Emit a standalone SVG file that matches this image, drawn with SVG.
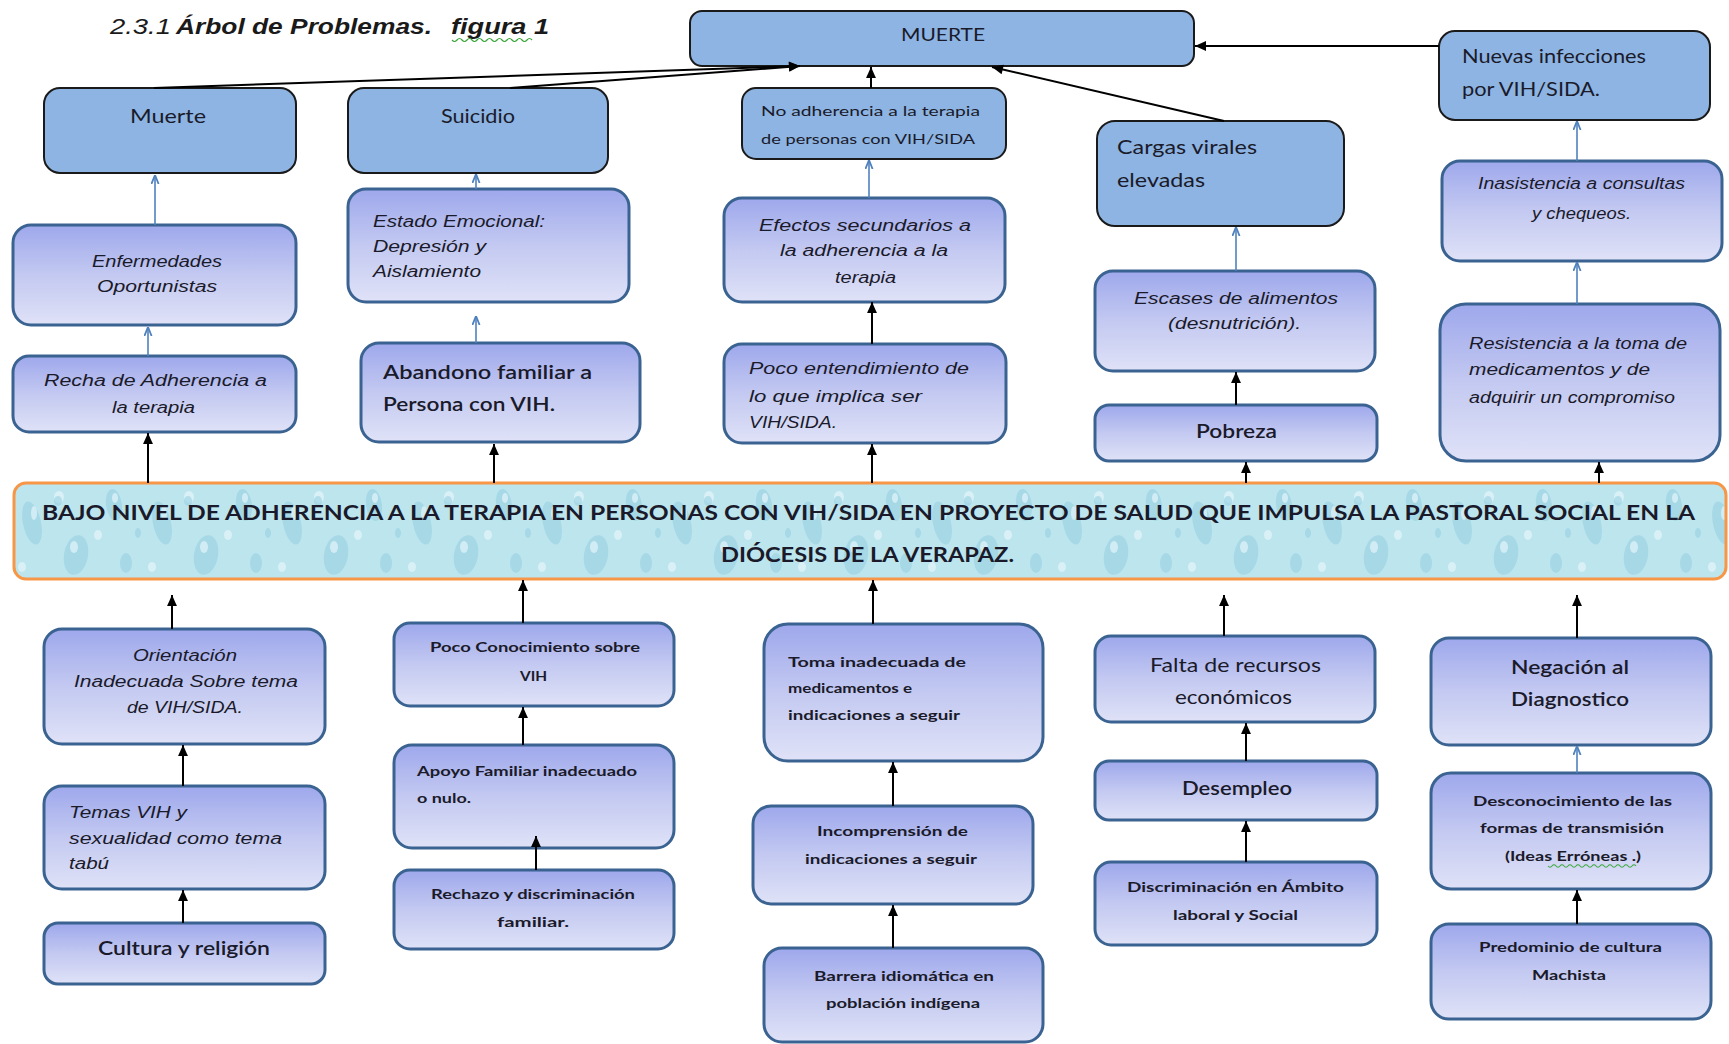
<svg xmlns="http://www.w3.org/2000/svg" width="1729" height="1044" viewBox="0 0 1729 1044">
<defs>
<style>
.eff{fill:#8db4e2;stroke:#1a1a1a;stroke-width:2}
.cau{fill:url(#gc);stroke:#3a6391;stroke-width:3}
.cal{font-family:Lato,"Open Sans","Liberation Sans",sans-serif;fill:#1a1a2a}
.ita{font-family:"Liberation Sans",Arial,sans-serif;font-style:italic;fill:#1a1a2a}
.bs{font-family:Lato,"Open Sans","Liberation Sans",sans-serif;font-weight:bold;fill:#1a1a2a}
.ck{stroke:#000;stroke-width:2;fill:none;marker-end:url(#ab)}
.cb{stroke:#4f81bd;stroke-width:1.6;fill:none;marker-end:url(#abl)}
.dk{fill:#93cee0;opacity:0.55}
.lt{fill:#e4f6fa;opacity:0.7}
</style>
<linearGradient id="gc" x1="0" y1="0" x2="0" y2="1">
<stop offset="0" stop-color="#9ea8ec"/>
<stop offset="0.5" stop-color="#c3c9f1"/>
<stop offset="1" stop-color="#dfe2f7"/>
</linearGradient>
<pattern id="drops" x="14" y="483" width="130" height="96" patternUnits="userSpaceOnUse">
<rect width="130" height="96" fill="#bde5ee"/>
<ellipse class="dk" cx="18" cy="40" rx="9" ry="22" transform="rotate(-12 18 40)"/>
<ellipse class="lt" cx="20" cy="30" rx="3" ry="7"/>
<ellipse class="dk" cx="62" cy="72" rx="12" ry="20" transform="rotate(10 62 72)"/>
<ellipse class="lt" cx="60" cy="64" rx="4" ry="6"/>
<ellipse class="dk" cx="100" cy="22" rx="8" ry="16" transform="rotate(-8 100 22)"/>
<ellipse class="lt" cx="101" cy="15" rx="3" ry="5"/>
<ellipse class="dk" cx="112" cy="80" rx="6" ry="10"/>
<ellipse class="lt" cx="45" cy="14" rx="5" ry="6"/>
<ellipse class="dk" cx="44" cy="18" rx="4" ry="5"/>
<ellipse class="lt" cx="84" cy="52" rx="4" ry="5"/>
<ellipse class="lt" cx="8" cy="84" rx="4" ry="5"/>
<ellipse class="dk" cx="124" cy="50" rx="3" ry="5"/>
</pattern>
<marker id="ab" viewBox="0 0 10 10" refX="10" refY="5" markerWidth="12" markerHeight="11" markerUnits="userSpaceOnUse" orient="auto">
<path d="M0,0.5 L10,5 L0,9.5 z" fill="#000"/>
</marker>
<marker id="abl" viewBox="0 0 10 10" refX="10" refY="5" markerWidth="9" markerHeight="9" markerUnits="userSpaceOnUse" orient="auto">
<path d="M0,1 L10,5 L0,9" fill="none" stroke="#4f81bd" stroke-width="2"/>
</marker>
</defs>
<rect width="1729" height="1044" fill="#ffffff"/>

<g id="title">
<text y="34" font-size="22" font-family="'Liberation Sans',Arial,sans-serif" font-style="italic" fill="#1a1a1a"><tspan x="110" textLength="61" lengthAdjust="spacingAndGlyphs">2.3.1</tspan><tspan x="176" font-weight="bold" textLength="256" lengthAdjust="spacingAndGlyphs">Árbol de Problemas.</tspan><tspan x="451" font-weight="bold" textLength="98" lengthAdjust="spacingAndGlyphs">figura 1</tspan></text>
<path d="M452,40 q2.5,3 5,0 t5,0 t5,0 t5,0 t5,0 t5,0 t5,0 t5,0 t5,0 t5,0 t5,0 t5,0 t5,0 t5,0 t5,0 t5,0" fill="none" stroke="#3aa63a" stroke-width="1.2"/>
</g>

<g id="n-muerte-top">
<rect class="eff" x="690" y="11" width="504" height="55" rx="12"/>
<text class="cal" x="901" y="41" font-size="17" textLength="84" lengthAdjust="spacingAndGlyphs">MUERTE</text>
</g>
<g id="n-muerte">
<rect class="eff" x="44" y="88" width="252" height="85" rx="16"/>
<text class="cal" x="130" y="123" font-size="19" textLength="76" lengthAdjust="spacingAndGlyphs">Muerte</text>
</g>
<g id="n-suicidio">
<rect class="eff" x="348" y="88" width="260" height="85" rx="16"/>
<text class="cal" x="441" y="123" font-size="19" textLength="74" lengthAdjust="spacingAndGlyphs">Suicidio</text>
</g>
<g id="n-noadherencia">
<rect class="eff" x="742" y="88" width="264" height="71" rx="14"/>
<text class="cal" x="761" y="116" font-size="14" textLength="219" lengthAdjust="spacingAndGlyphs">No adherencia  a la terapia</text>
<text class="cal" x="761" y="144" font-size="14" textLength="214" lengthAdjust="spacingAndGlyphs">de personas con VIH/SIDA</text>
</g>
<g id="n-cargas">
<rect class="eff" x="1097" y="121" width="247" height="105" rx="18"/>
<text class="cal" x="1117" y="154" font-size="19" textLength="140" lengthAdjust="spacingAndGlyphs">Cargas virales</text>
<text class="cal" x="1117" y="187" font-size="19" textLength="88" lengthAdjust="spacingAndGlyphs">elevadas</text>
</g>
<g id="n-nuevas">
<rect class="eff" x="1439" y="31" width="271" height="89" rx="16"/>
<text class="cal" x="1462" y="63" font-size="19" textLength="184" lengthAdjust="spacingAndGlyphs">Nuevas infecciones</text>
<text class="cal" x="1462" y="96" font-size="19" textLength="138" lengthAdjust="spacingAndGlyphs">por VIH/SIDA.</text>
</g>

<g id="n-enfermedades">
<rect class="cau" x="13" y="225" width="283" height="100" rx="18"/>
<text class="ita" x="92" y="267" font-size="16" textLength="130" lengthAdjust="spacingAndGlyphs">Enfermedades</text>
<text class="ita" x="97" y="292" font-size="16" textLength="120" lengthAdjust="spacingAndGlyphs">Oportunistas</text>
</g>
<g id="n-estado">
<rect class="cau" x="348" y="189" width="281" height="113" rx="18"/>
<text class="ita" x="373" y="227" font-size="16" textLength="172" lengthAdjust="spacingAndGlyphs">Estado Emocional:</text>
<text class="ita" x="373" y="252" font-size="16" textLength="113" lengthAdjust="spacingAndGlyphs">Depresión  y</text>
<text class="ita" x="373" y="277" font-size="16" textLength="108" lengthAdjust="spacingAndGlyphs">Aislamiento</text>
</g>
<g id="n-efectos">
<rect class="cau" x="724" y="198" width="281" height="104" rx="18"/>
<text class="ita" x="759" y="231" font-size="16" textLength="212" lengthAdjust="spacingAndGlyphs">Efectos  secundarios  a</text>
<text class="ita" x="780" y="256" font-size="16" textLength="168" lengthAdjust="spacingAndGlyphs">la adherencia   a la</text>
<text class="ita" x="835" y="283" font-size="16" textLength="61" lengthAdjust="spacingAndGlyphs">terapia</text>
</g>
<g id="n-escases">
<rect class="cau" x="1095" y="271" width="280" height="100" rx="18"/>
<text class="ita" x="1134" y="304" font-size="16" textLength="204" lengthAdjust="spacingAndGlyphs">Escases  de alimentos</text>
<text class="ita" x="1168" y="329" font-size="16" textLength="133" lengthAdjust="spacingAndGlyphs">(desnutrición).</text>
</g>
<g id="n-inasistencia">
<rect class="cau" x="1442" y="161" width="280" height="100" rx="18"/>
<text class="ita" x="1478" y="189" font-size="16" textLength="207" lengthAdjust="spacingAndGlyphs">Inasistencia   a consultas</text>
<text class="ita" x="1532" y="219" font-size="16" textLength="99" lengthAdjust="spacingAndGlyphs">y chequeos.</text>
</g>
<g id="n-recha">
<rect class="cau" x="13" y="356" width="283" height="76" rx="16"/>
<text class="ita" x="44" y="386" font-size="16" textLength="223" lengthAdjust="spacingAndGlyphs">Recha de  Adherencia  a</text>
<text class="ita" x="112" y="413" font-size="16" textLength="83" lengthAdjust="spacingAndGlyphs">la terapia</text>
</g>
<g id="n-abandono">
<rect class="cau" x="361" y="343" width="279" height="99" rx="18"/>
<text class="cal" x="383" y="379" font-size="19" font-weight="600" textLength="209" lengthAdjust="spacingAndGlyphs">Abandono  familiar  a</text>
<text class="cal" x="383" y="411" font-size="19" font-weight="600" textLength="172" lengthAdjust="spacingAndGlyphs">Persona con VIH.</text>
</g>
<g id="n-poco-entendimiento">
<rect class="cau" x="724" y="344" width="282" height="99" rx="18"/>
<text class="ita" x="749" y="374" font-size="16" textLength="220" lengthAdjust="spacingAndGlyphs">Poco entendimiento  de</text>
<text class="ita" x="749" y="402" font-size="16" textLength="173" lengthAdjust="spacingAndGlyphs">lo que implica   ser</text>
<text class="ita" x="749" y="428" font-size="16" textLength="88" lengthAdjust="spacingAndGlyphs">VIH/SIDA.</text>
</g>
<g id="n-pobreza">
<rect class="cau" x="1095" y="405" width="282" height="56" rx="14"/>
<text class="cal" x="1196" y="438" font-size="19" font-weight="600" textLength="81" lengthAdjust="spacingAndGlyphs">Pobreza</text>
</g>
<g id="n-resistencia">
<rect class="cau" x="1440" y="304" width="280" height="157" rx="26"/>
<text class="ita" x="1469" y="349" font-size="16" textLength="218" lengthAdjust="spacingAndGlyphs">Resistencia  a la toma  de</text>
<text class="ita" x="1469" y="375" font-size="16" textLength="181" lengthAdjust="spacingAndGlyphs">medicamentos   y de</text>
<text class="ita" x="1469" y="403" font-size="16" textLength="206" lengthAdjust="spacingAndGlyphs">adquirir un  compromiso</text>
</g>

<g id="n-problema">
<rect x="14" y="483" width="1712" height="96" rx="12" fill="url(#drops)" stroke="#f79646" stroke-width="3"/>
<text class="bs" x="42" y="520" font-size="21" textLength="1653" lengthAdjust="spacingAndGlyphs">BAJO NIVEL  DE ADHERENCIA  A LA TERAPIA  EN PERSONAS  CON VIH/SIDA  EN PROYECTO  DE  SALUD QUE IMPULSA  LA PASTORAL SOCIAL EN LA</text>
<text class="bs" x="721" y="562" font-size="21" textLength="293" lengthAdjust="spacingAndGlyphs">DIÓCESIS DE LA VERAPAZ.</text>
</g>

<g id="n-orientacion">
<rect class="cau" x="44" y="629" width="281" height="115" rx="18"/>
<text class="ita" x="133" y="661" font-size="16" textLength="104" lengthAdjust="spacingAndGlyphs">Orientación</text>
<text class="ita" x="74" y="687" font-size="16" textLength="224" lengthAdjust="spacingAndGlyphs">Inadecuada  Sobre  tema</text>
<text class="ita" x="127" y="713" font-size="16" textLength="116" lengthAdjust="spacingAndGlyphs">de VIH/SIDA.</text>
</g>
<g id="n-temas">
<rect class="cau" x="44" y="786" width="281" height="103" rx="18"/>
<text class="ita" x="69" y="818" font-size="16" textLength="118" lengthAdjust="spacingAndGlyphs">Temas  VIH  y</text>
<text class="ita" x="69" y="844" font-size="16" textLength="213" lengthAdjust="spacingAndGlyphs">sexualidad   como tema</text>
<text class="ita" x="69" y="869" font-size="16" textLength="40" lengthAdjust="spacingAndGlyphs">tabú</text>
</g>
<g id="n-cultura">
<rect class="cau" x="44" y="923" width="281" height="61" rx="14"/>
<text class="cal" x="98" y="955" font-size="20" font-weight="600" textLength="172" lengthAdjust="spacingAndGlyphs">Cultura y religión</text>
</g>
<g id="n-poco-conocimiento">
<rect class="cau" x="394" y="623" width="280" height="83" rx="16"/>
<text class="bs" x="430" y="652" font-size="14" textLength="210" lengthAdjust="spacingAndGlyphs">Poco Conocimiento  sobre</text>
<text class="bs" x="520" y="681" font-size="14" textLength="27" lengthAdjust="spacingAndGlyphs">VIH</text>
</g>
<g id="n-apoyo">
<rect class="cau" x="394" y="745" width="280" height="103" rx="18"/>
<text class="bs" x="417" y="776" font-size="14" textLength="220" lengthAdjust="spacingAndGlyphs">Apoyo Familiar inadecuado</text>
<text class="bs" x="417" y="803" font-size="14" textLength="54" lengthAdjust="spacingAndGlyphs">o nulo.</text>
</g>
<g id="n-rechazo">
<rect class="cau" x="394" y="870" width="280" height="79" rx="16"/>
<text class="bs" x="431" y="899" font-size="14" textLength="204" lengthAdjust="spacingAndGlyphs">Rechazo y discriminación</text>
<text class="bs" x="497" y="927" font-size="14" textLength="72" lengthAdjust="spacingAndGlyphs">familiar.</text>
</g>
<g id="n-toma">
<rect class="cau" x="764" y="624" width="279" height="137" rx="24"/>
<text class="bs" x="788" y="667" font-size="14" textLength="178" lengthAdjust="spacingAndGlyphs">Toma inadecuada   de</text>
<text class="bs" x="788" y="693" font-size="14" textLength="124" lengthAdjust="spacingAndGlyphs">medicamentos e</text>
<text class="bs" x="788" y="720" font-size="14" textLength="172" lengthAdjust="spacingAndGlyphs">indicaciones   a seguir</text>
</g>
<g id="n-incomprension">
<rect class="cau" x="753" y="806" width="280" height="98" rx="18"/>
<text class="bs" x="817" y="836" font-size="14" textLength="151" lengthAdjust="spacingAndGlyphs">Incomprensión  de</text>
<text class="bs" x="805" y="864" font-size="14" textLength="172" lengthAdjust="spacingAndGlyphs">indicaciones  a seguir</text>
</g>
<g id="n-barrera">
<rect class="cau" x="764" y="948" width="279" height="94" rx="18"/>
<text class="bs" x="814" y="981" font-size="14" textLength="180" lengthAdjust="spacingAndGlyphs">Barrera idiomática en</text>
<text class="bs" x="826" y="1008" font-size="14" textLength="154" lengthAdjust="spacingAndGlyphs">población  indígena</text>
</g>
<g id="n-falta">
<rect class="cau" x="1095" y="636" width="280" height="86" rx="16"/>
<text class="cal" x="1150" y="672" font-size="19" textLength="171" lengthAdjust="spacingAndGlyphs">Falta de recursos</text>
<text class="cal" x="1175" y="704" font-size="19" textLength="117" lengthAdjust="spacingAndGlyphs">económicos</text>
</g>
<g id="n-desempleo">
<rect class="cau" x="1095" y="761" width="282" height="59" rx="14"/>
<text class="cal" x="1182" y="795" font-size="19" font-weight="600" textLength="110" lengthAdjust="spacingAndGlyphs">Desempleo</text>
</g>
<g id="n-discriminacion">
<rect class="cau" x="1095" y="862" width="282" height="83" rx="16"/>
<text class="bs" x="1127" y="892" font-size="14" textLength="217" lengthAdjust="spacingAndGlyphs">Discriminación  en Ámbito</text>
<text class="bs" x="1173" y="920" font-size="14" textLength="125" lengthAdjust="spacingAndGlyphs">laboral y Social</text>
</g>
<g id="n-negacion">
<rect class="cau" x="1431" y="638" width="280" height="107" rx="18"/>
<text class="cal" x="1511" y="674" font-size="20" font-weight="600" textLength="118" lengthAdjust="spacingAndGlyphs">Negación al</text>
<text class="cal" x="1511" y="706" font-size="20" font-weight="600" textLength="118" lengthAdjust="spacingAndGlyphs">Diagnostico</text>
</g>
<g id="n-desconocimiento">
<rect class="cau" x="1431" y="773" width="280" height="116" rx="20"/>
<text class="bs" x="1473" y="806" font-size="14" textLength="199" lengthAdjust="spacingAndGlyphs">Desconocimiento  de las</text>
<text class="bs" x="1480" y="833" font-size="14" textLength="184" lengthAdjust="spacingAndGlyphs">formas de transmisión</text>
<text class="bs" x="1505" y="861" font-size="14" textLength="136" lengthAdjust="spacingAndGlyphs">(Ideas Erróneas .)</text>
<path d="M1548,866 q2,2.5 4,0 t4,0 t4,0 t4,0 t4,0 t4,0 t4,0 t4,0 t4,0 t4,0 t4,0 t4,0 t4,0 t4,0 t4,0 t4,0 t4,0 t4,0 t4,0 t4,0 t4,0 t4,0" fill="none" stroke="#3aa63a" stroke-width="1.1"/>
</g>
<g id="n-predominio">
<rect class="cau" x="1431" y="924" width="280" height="95" rx="18"/>
<text class="bs" x="1479" y="952" font-size="14" textLength="183" lengthAdjust="spacingAndGlyphs">Predominio de cultura</text>
<text class="bs" x="1532" y="980" font-size="14" textLength="74" lengthAdjust="spacingAndGlyphs">Machista</text>
</g>

<g id="connectors">
<line class="ck" x1="154" y1="88" x2="800" y2="66"/>
<line class="ck" x1="510" y1="88" x2="800" y2="66"/>
<line class="ck" x1="871" y1="88" x2="871" y2="67"/>
<line class="ck" x1="1224" y1="121" x2="992" y2="67"/>
<line class="ck" x1="1439" y1="46" x2="1195" y2="46"/>
<line class="ck" x1="148" y1="483" x2="148" y2="433"/>
<line class="ck" x1="494" y1="483" x2="494" y2="444"/>
<line class="ck" x1="872" y1="344" x2="872" y2="302"/>
<line class="ck" x1="872" y1="483" x2="872" y2="444"/>
<line class="ck" x1="1236" y1="405" x2="1236" y2="372"/>
<line class="ck" x1="1246" y1="483" x2="1246" y2="462"/>
<line class="ck" x1="1599" y1="483" x2="1599" y2="462"/>
<line class="ck" x1="172" y1="629" x2="172" y2="595"/>
<line class="ck" x1="183" y1="786" x2="183" y2="745"/>
<line class="ck" x1="183" y1="923" x2="183" y2="890"/>
<line class="ck" x1="523" y1="623" x2="523" y2="580"/>
<line class="ck" x1="523" y1="745" x2="523" y2="707"/>
<line class="ck" x1="536" y1="870" x2="536" y2="836"/>
<line class="ck" x1="873" y1="624" x2="873" y2="580"/>
<line class="ck" x1="893" y1="806" x2="893" y2="762"/>
<line class="ck" x1="893" y1="948" x2="893" y2="905"/>
<line class="ck" x1="1224" y1="636" x2="1224" y2="595"/>
<line class="ck" x1="1246" y1="761" x2="1246" y2="723"/>
<line class="ck" x1="1246" y1="862" x2="1246" y2="821"/>
<line class="ck" x1="1577" y1="638" x2="1577" y2="595"/>
<line class="ck" x1="1577" y1="924" x2="1577" y2="890"/>
<line class="cb" x1="155" y1="225" x2="155" y2="175"/>
<line class="cb" x1="148" y1="356" x2="148" y2="327"/>
<line class="cb" x1="476" y1="189" x2="476" y2="174"/>
<line class="cb" x1="476" y1="343" x2="476" y2="316"/>
<line class="cb" x1="869" y1="198" x2="869" y2="160"/>
<line class="cb" x1="1236" y1="271" x2="1236" y2="227" stroke="#8fb0dc" stroke-width="2.6"/>
<line class="cb" x1="1577" y1="161" x2="1577" y2="121"/>
<line class="cb" x1="1577" y1="304" x2="1577" y2="262"/>
<line class="cb" x1="1577" y1="773" x2="1577" y2="746"/>
</g>
</svg>
